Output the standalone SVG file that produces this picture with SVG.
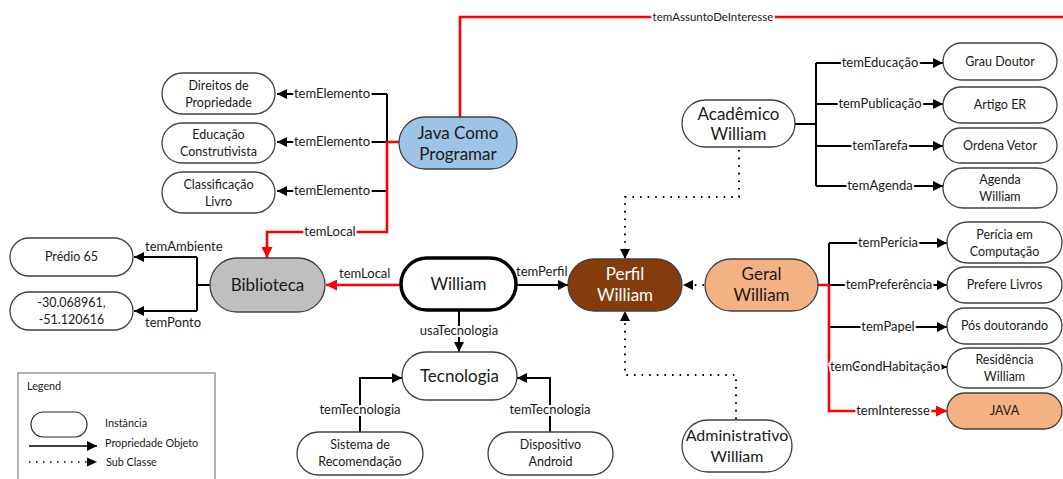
<svg xmlns="http://www.w3.org/2000/svg" width="1063" height="479" viewBox="0 0 1063 479">
  <defs>
    <style>
      .node { fill: #ffffff; stroke: #404040; stroke-width: 1.3; }
      .big { font-family: Lato, "Liberation Sans", sans-serif; font-size: 17px; fill: #1a1a1a; text-anchor: middle; }
      .small { font-family: Lato, "Liberation Sans", sans-serif; font-size: 12.5px; fill: #1a1a1a; text-anchor: middle; }
      .lbl { font-family: Lato, "Liberation Sans", sans-serif; font-size: 13px; fill: #1a1a1a; text-anchor: middle; }
      .halo { stroke: #ffffff; stroke-width: 4; paint-order: stroke; stroke-linejoin: round; }
      .edge { fill: none; stroke: #000000; stroke-width: 2; }
      .red { fill: none; stroke: #ff0000; stroke-width: 2.6; }
      .dot { fill: none; stroke: #000000; stroke-width: 2; stroke-dasharray: 1.6 6; }
      .leg { font-family: Lato, "Liberation Sans", sans-serif; font-size: 10.8px; fill: #1a1a1a; }
    </style>
    <marker id="arrow" viewBox="0 0 10 10" refX="10" refY="5" markerWidth="11" markerHeight="10" markerUnits="userSpaceOnUse" orient="auto">
      <path d="M0,0 L10,5 L0,10 z" fill="#000000"/>
    </marker>
    <marker id="arrowRed" viewBox="0 0 10 10" refX="10" refY="5" markerWidth="12" markerHeight="11" markerUnits="userSpaceOnUse" orient="auto">
      <path d="M0,0 L10,5 L0,10 z" fill="#ff0000"/>
    </marker>
  </defs>

  <rect width="1063" height="479" fill="#ffffff"/>

  <!-- connectors -->
  <g id="connectors">
    <!-- Java Como Programar: temElemento -->
    <path class="edge" d="M387,94 V191"/>
    <path class="edge" d="M387,94 H277" marker-end="url(#arrow)"/>
    <path class="edge" d="M387,142 H277" marker-end="url(#arrow)"/>
    <path class="edge" d="M387,191 H277" marker-end="url(#arrow)"/>
    <!-- Java Como Programar: temLocal -> Biblioteca -->
    <path class="red" d="M399,142 H387 V232 H267 V258" marker-end="url(#arrowRed)"/>
    <!-- Java Como Programar: temAssuntoDeInteresse -->
    <path class="red" d="M460,117 V17 H1063"/>

    <!-- Acadêmico William -->
    <path class="edge" d="M795,124 H816"/>
    <path class="edge" d="M816,63 V186"/>
    <path class="edge" d="M816,63 H943" marker-end="url(#arrow)"/>
    <path class="edge" d="M816,104 H943" marker-end="url(#arrow)"/>
    <path class="edge" d="M816,146 H943" marker-end="url(#arrow)"/>
    <path class="edge" d="M816,186 H943" marker-end="url(#arrow)"/>
    <path class="dot" d="M739,150 V197 H625 V259" marker-end="url(#arrow)"/>

    <!-- Biblioteca -->
    <path class="edge" d="M210,285 H197"/>
    <path class="edge" d="M197,257 V311"/>
    <path class="edge" d="M197,257 H134" marker-end="url(#arrow)"/>
    <path class="edge" d="M197,311 H134" marker-end="url(#arrow)"/>

    <!-- William -->
    <path class="red" d="M400,285 H326" marker-end="url(#arrowRed)"/>
    <path class="edge" d="M517,285 H568" marker-end="url(#arrow)"/>
    <path class="edge" d="M459,311 V352" marker-end="url(#arrow)"/>

    <!-- Geral / Administrativo -> Perfil -->
    <path class="dot" d="M704,285 H683" marker-end="url(#arrow)"/>
    <path class="dot" d="M736,419 V375 H625 V311" marker-end="url(#arrow)"/>

    <!-- Geral William -->
    <path class="edge" d="M829,243 V285"/>
    <path class="edge" d="M829,243 H947" marker-end="url(#arrow)"/>
    <path class="edge" d="M829,285 H947" marker-end="url(#arrow)"/>
    <path class="edge" d="M830,327 H947" marker-end="url(#arrow)"/>
    <path class="edge" d="M830,367 H947" marker-end="url(#arrow)"/>
    <path class="red" d="M818,285 H829 V411 H947" marker-end="url(#arrowRed)"/>

    <!-- Tecnologia -->
    <path class="edge" d="M360,432 V378 H402" marker-end="url(#arrow)"/>
    <path class="edge" d="M550,432 V378 H517" marker-end="url(#arrow)"/>

    <!-- labels -->
    <text class="lbl halo" x="332" y="98">temElemento</text>
    <text class="lbl halo" x="332" y="146">temElemento</text>
    <text class="lbl halo" x="332" y="195">temElemento</text>
    <text class="lbl halo" x="330" y="236">temLocal</text>
    <text class="lbl halo" x="713" y="21" style="font-size:11.5px">temAssuntoDeInteresse</text>
    <text class="lbl halo" x="880" y="67">temEducação</text>
    <text class="lbl halo" x="880" y="108">temPublicação</text>
    <text class="lbl halo" x="880" y="150">temTarefa</text>
    <text class="lbl halo" x="880" y="190">temAgenda</text>
    <text class="lbl" x="145" y="251" style="text-anchor:start">temAmbiente</text>
    <text class="lbl" x="145" y="327" style="text-anchor:start">temPonto</text>
    <text class="lbl" x="339" y="278" style="text-anchor:start">temLocal</text>
    <text class="lbl" x="516" y="276" style="text-anchor:start">temPerfil</text>
    <text class="lbl halo" x="459" y="335">usaTecnologia</text>
    <text class="lbl halo" x="888" y="247">temPerícia</text>
    <text class="lbl halo" x="889" y="289">temPreferência</text>
    <text class="lbl halo" x="888" y="331">temPapel</text>
    <text class="lbl halo" x="885" y="371">temCondHabitação</text>
    <text class="lbl halo" x="893" y="415">temInteresse</text>
    <text class="lbl halo" x="360" y="414">temTecnologia</text>
    <text class="lbl halo" x="550" y="414">temTecnologia</text>
  </g>

  <!-- nodes -->
  <g id="n-direitos">
    <rect class="node" x="162" y="73" width="113" height="41" rx="20.5"/>
    <text class="small" x="218.5" y="90">Direitos de</text>
    <text class="small" x="218.5" y="107">Propriedade</text>
  </g>
  <g id="n-educacao">
    <rect class="node" x="162" y="123" width="113" height="40" rx="20"/>
    <text class="small" x="218.5" y="139">Educação</text>
    <text class="small" x="218.5" y="156">Construtivista</text>
  </g>
  <g id="n-classificacao">
    <rect class="node" x="162" y="172" width="113" height="41" rx="20.5"/>
    <text class="small" x="218.5" y="189">Classificação</text>
    <text class="small" x="218.5" y="206">Livro</text>
  </g>
  <g id="n-java-livro">
    <rect class="node" x="399" y="117" width="118" height="52" rx="26" style="fill:#9dc3e6"/>
    <text class="big" x="458" y="139">Java Como</text>
    <text class="big" x="458" y="160">Programar</text>
  </g>
  <g id="n-academico">
    <rect class="node" x="682" y="100" width="113" height="47" rx="23.5"/>
    <text class="big" x="738.5" y="120">Acadêmico</text>
    <text class="big" x="738.5" y="140">William</text>
  </g>
  <g id="n-grau">
    <rect class="node" x="943" y="43" width="114" height="37" rx="18.5"/>
    <text class="small" x="1000" y="66">Grau Doutor</text>
  </g>
  <g id="n-artigo">
    <rect class="node" x="943" y="87" width="114" height="36" rx="18"/>
    <text class="small" x="1000" y="109">Artigo ER</text>
  </g>
  <g id="n-ordena">
    <rect class="node" x="943" y="128" width="114" height="35" rx="17.5"/>
    <text class="small" x="1000" y="150">Ordena Vetor</text>
  </g>
  <g id="n-agenda">
    <rect class="node" x="943" y="168" width="114" height="40" rx="20"/>
    <text class="small" x="1000" y="184">Agenda</text>
    <text class="small" x="1000" y="201">William</text>
  </g>
  <g id="n-predio">
    <rect class="node" x="10" y="238" width="123" height="38" rx="19"/>
    <text class="small" x="71.5" y="261">Prédio 65</text>
  </g>
  <g id="n-ponto">
    <rect class="node" x="10" y="292" width="123" height="38" rx="19"/>
    <text class="small" x="71.5" y="307">-30.068961,</text>
    <text class="small" x="71.5" y="324">-51.120616</text>
  </g>
  <g id="n-biblioteca">
    <rect class="node" x="210" y="258" width="115" height="54" rx="27" style="fill:#bfbfbf"/>
    <text class="big" x="267.5" y="291">Biblioteca</text>
  </g>
  <g id="n-william">
    <rect class="node" x="401" y="258" width="115" height="52" rx="26" style="stroke:#000000;stroke-width:3.5"/>
    <text class="big" x="458.5" y="290">William</text>
  </g>
  <g id="n-perfil">
    <rect class="node" x="568" y="259" width="114" height="52" rx="26" style="fill:#843c0c"/>
    <text class="big" x="625" y="280" style="fill:#ffffff">Perfil</text>
    <text class="big" x="625" y="301" style="fill:#ffffff">William</text>
  </g>
  <g id="n-geral">
    <rect class="node" x="705" y="259" width="113" height="52" rx="26" style="fill:#f4b183"/>
    <text class="big" x="761.5" y="280">Geral</text>
    <text class="big" x="761.5" y="301">William</text>
  </g>
  <g id="n-pericia">
    <rect class="node" x="947" y="222" width="115" height="41" rx="20.5"/>
    <text class="small" x="1004.5" y="239">Perícia em</text>
    <text class="small" x="1004.5" y="256">Computação</text>
  </g>
  <g id="n-prefere">
    <rect class="node" x="947" y="267" width="115" height="36" rx="18"/>
    <text class="small" x="1004.5" y="289">Prefere Livros</text>
  </g>
  <g id="n-pos">
    <rect class="node" x="947" y="308" width="115" height="36" rx="18"/>
    <text class="small" x="1004.5" y="330">Pós doutorando</text>
  </g>
  <g id="n-residencia">
    <rect class="node" x="947" y="348" width="115" height="40" rx="20"/>
    <text class="small" x="1004.5" y="364">Residência</text>
    <text class="small" x="1004.5" y="381">William</text>
  </g>
  <g id="n-java-interesse">
    <rect class="node" x="947" y="393" width="115" height="36" rx="18" style="fill:#f4b183"/>
    <text class="small" x="1004.5" y="415">JAVA</text>
  </g>
  <g id="n-tecnologia">
    <rect class="node" x="402" y="352" width="115" height="48" rx="24"/>
    <text class="big" x="459.5" y="382">Tecnologia</text>
  </g>
  <g id="n-sistema">
    <rect class="node" x="297" y="432" width="126" height="43" rx="21.5"/>
    <text class="small" x="360" y="449">Sistema de</text>
    <text class="small" x="360" y="466">Recomendação</text>
  </g>
  <g id="n-dispositivo">
    <rect class="node" x="488" y="432" width="125" height="43" rx="21.5"/>
    <text class="small" x="550.5" y="449">Dispositivo</text>
    <text class="small" x="550.5" y="466">Android</text>
  </g>
  <g id="n-administrativo">
    <rect class="node" x="682" y="420" width="110" height="52" rx="26"/>
    <text class="big" x="737" y="441" style="font-size:16px">Administrativo</text>
    <text class="big" x="737" y="462" style="font-size:16px">William</text>
  </g>

  <!-- legend -->
  <g id="legend">
    <rect x="18" y="373" width="197" height="112" fill="#ffffff" stroke="#7f7f7f" stroke-width="1.2"/>
    <text class="leg" x="27" y="390">Legend</text>
    <rect x="31" y="412" width="56" height="25" rx="12.5" fill="#ffffff" stroke="#262626" stroke-width="1.2"/>
    <text class="leg" x="105" y="427">Instância</text>
    <path d="M29,446 H97" fill="none" stroke="#000000" stroke-width="1.6" marker-end="url(#arrow)"/>
    <text class="leg" x="105" y="447">Propriedade Objeto</text>
    <path d="M29,462 H87" fill="none" stroke="#000000" stroke-width="1.5" stroke-dasharray="1.5 5.5"/>
    <path d="M87,457.5 L97,462 L87,466.5 z" fill="#000000"/>
    <text class="leg" x="106" y="466">Sub Classe</text>
  </g>
</svg>
